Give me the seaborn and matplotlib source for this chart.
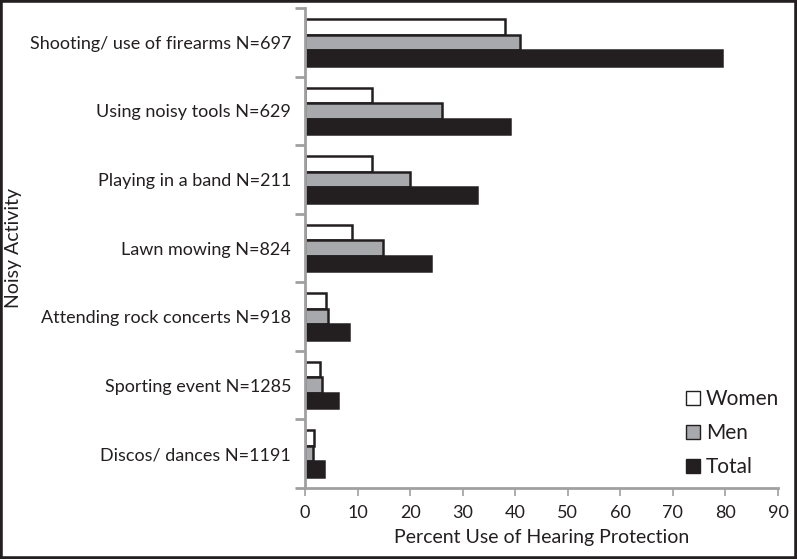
import matplotlib
matplotlib.use("Agg")
import matplotlib.pyplot as plt
import seaborn as sns
import pandas as pd
from matplotlib.patches import Rectangle, Patch
from matplotlib.ticker import FixedLocator

activities = ["Shooting/ use of firearms N=697", "Using noisy tools N=629",
              "Playing in a band N=211", "Lawn mowing N=824",
              "Attending rock concerts N=918", "Sporting event N=1285",
              "Discos/ dances N=1191"]
women = [38, 12.7, 12.7, 9, 4, 2.9, 1.7]
men = [41, 26, 20, 14.8, 4.4, 3.3, 1.6]
total = [79.4, 39, 32.8, 23.9, 8.4, 6.2, 3.6]
groups = ["Women", "Men", "Total"]
xticks = [0, 10, 20, 30, 40, 50, 60, 70, 80, 90]

rows = []
for g, vals in zip(groups, [women, men, total]):
    for a, v in zip(activities, vals):
        rows.append({"Activity": a, "Group": g, "Value": v})
df = pd.DataFrame(rows)

sns.set_style("white")
plt.rcParams['font.family'] = ['Lato', 'DejaVu Sans']

fig = plt.figure(figsize=(7.97, 5.59), dpi=100)
ax = fig.add_axes([305/797, 1-488/559, (778-305)/797, (488-8)/559])

palette = {"Women": "#ffffff", "Men": "#a7a9ac", "Total": "#231f20"}
sns.barplot(data=df, y="Activity", x="Value", hue="Group", order=activities,
            hue_order=groups, palette=palette, orient="h", width=0.68,
            edgecolor="#231f20", linewidth=1.8, ax=ax, legend=False,
            errorbar=None, saturation=1)

ax.set_xlim(0, 90)
ax.set_ylim(6.5, -0.5)
ax.set_xticks(xticks)
ax.set_xticklabels([str(t) for t in xticks], fontsize=13, color="#231f20")
ax.set_yticklabels(activities, fontsize=13, color="#231f20")
ax.tick_params(axis="y", which="major", length=0, pad=10)
ax.yaxis.set_minor_locator(FixedLocator([i - 0.5 for i in range(8)]))
ax.tick_params(axis="y", which="minor", length=7, width=2, color="#a0a0a0", direction="out", left=True)
ax.tick_params(axis="x", which="major", length=6, width=1.2, color="#a0a0a0", direction="out", bottom=True, pad=6)

for s in ["top", "right"]:
    ax.spines[s].set_visible(False)
for s in ["left", "bottom"]:
    ax.spines[s].set_color("#a0a0a0")
    ax.spines[s].set_linewidth(2)

ax.set_xlabel("Percent Use of Hearing Protection", fontsize=14, color="#231f20", labelpad=6)
ax.set_ylabel("Noisy Activity", fontsize=14, color="#231f20")
ax.yaxis.set_label_coords((22 - 305) / 473, 0.5)

handles = [Patch(facecolor=palette[g], edgecolor="#231f20", linewidth=1.0, label=g) for g in groups]
leg = ax.legend(handles=handles, loc="lower right", bbox_to_anchor=(1.02, 0.005),
                frameon=False, fontsize=15, handlelength=0.65, handleheight=0.65,
                handletextpad=0.3, labelspacing=0.68, borderaxespad=0)
for t in leg.get_texts():
    t.set_color("#231f20")

fig.patches.append(Rectangle((0, 0), 1, 1, transform=fig.transFigure, fill=False,
                             edgecolor="#231f20", linewidth=4, zorder=10))

fig.savefig("out.png", dpi=100)
